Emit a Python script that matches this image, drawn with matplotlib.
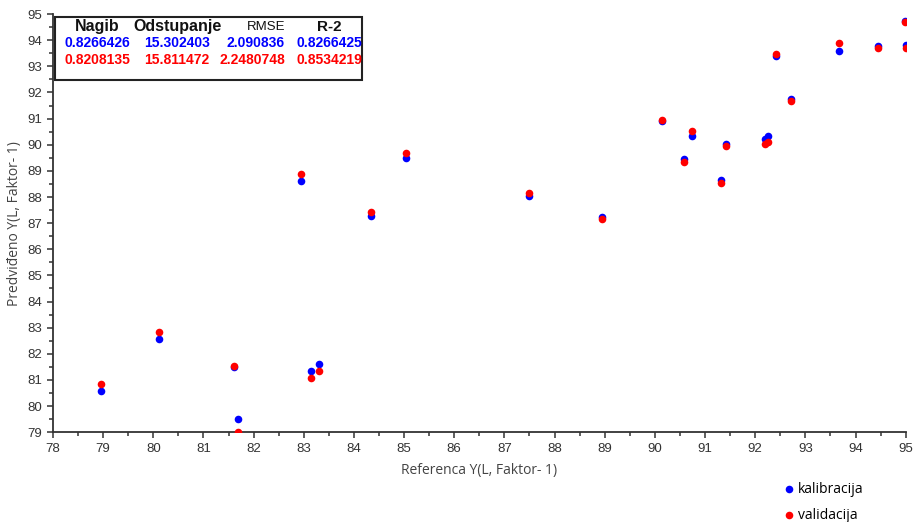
import matplotlib.pyplot as plt
from matplotlib.ticker import MultipleLocator
from matplotlib.patches import Rectangle

# referentne vrijednosti i predviđanja (kalibracija / validacija)
referenca = [78.96, 80.11, 81.61, 81.68, 83.15, 83.31, 82.94, 84.34, 85.03, 87.50,
             88.95, 90.14, 90.58, 90.74, 91.31, 91.42, 92.19, 92.26, 92.41, 92.72,
             93.68, 94.45, 94.98, 95.01]
kalibracija = [80.56, 82.55, 81.50, 79.52, 81.33, 81.62, 88.61, 87.27, 89.51, 88.04,
               87.24, 90.89, 89.45, 90.33, 88.65, 90.03, 90.23, 90.33, 93.39, 91.75,
               93.60, 93.78, 94.72, 93.83]
validacija = [80.85, 82.85, 81.55, 79.00, 81.07, 81.33, 88.87, 87.42, 89.69, 88.15,
              87.15, 90.93, 89.33, 90.51, 88.52, 89.95, 90.01, 90.11, 93.47, 91.67,
              93.90, 93.69, 94.69, 93.69]

# statistika modela
kolone = ["Nagib", "Odstupanje", "RMSE", "R-2"]
stat_kal = ["0.8266426", "15.302403", "2.090836", "0.8266425"]
stat_val = ["0.8208135", "15.811472", "2.2480748", "0.8534219"]

plt.rcParams["font.family"] = ["Liberation Sans", "DejaVu Sans"]
siva = "#333333"

fig = plt.figure(figsize=(9.13, 5.22), dpi=100)
ax = fig.add_axes([0.058, 0.172, 0.934, 0.801])

ax.scatter(referenca, kalibracija, s=30, color="#0000ff", linewidths=0, zorder=3)
ax.scatter(referenca, validacija, s=30, color="#ff0000", linewidths=0, zorder=4)

ax.set_xlim(78, 95)
ax.set_ylim(79, 95)
ax.xaxis.set_major_locator(MultipleLocator(1))
ax.xaxis.set_minor_locator(MultipleLocator(0.5))
ax.yaxis.set_major_locator(MultipleLocator(1))
ax.yaxis.set_minor_locator(MultipleLocator(0.5))

for s in ["top", "right"]:
    ax.spines[s].set_visible(False)
for s in ["left", "bottom"]:
    ax.spines[s].set_color(siva)
    ax.spines[s].set_linewidth(1.3)
ax.tick_params(which="both", direction="out", color=siva, width=1.1,
               labelcolor=siva, labelsize=9.5)
ax.tick_params(which="major", length=4)
ax.tick_params(which="minor", length=3)

ax.set_xlabel("Referenca Y(L, Faktor- 1)", family="Open Sans", fontsize=10,
              color="#444444", labelpad=6)
ax.set_ylabel("Predviđeno Y(L, Faktor- 1)", family="Open Sans", fontsize=10,
              color="#444444", labelpad=4)

# tablica sa statistikom u gornjem lijevom kutu
fig.patches.append(Rectangle((55 / 913, 1 - 80 / 522), 307 / 913, 63 / 522,
                             transform=fig.transFigure, facecolor="white",
                             edgecolor="#222222", linewidth=1.5, zorder=5))
kol_x = [97, 177, 285, 329]
kol_ha = ["center", "center", "right", "center"]
kol_w = ["bold", "bold", "normal", "bold"]
kol_fs = [11.5, 11.5, 9.5, 11]
for i in range(4):
    fig.text(kol_x[i] / 913, 1 - 27 / 522, kolone[i], ha=kol_ha[i], va="center",
             fontsize=kol_fs[i], fontweight=kol_w[i], color="#111111", zorder=6)
    fig.text(kol_x[i] / 913, 1 - 43 / 522, stat_kal[i], ha=kol_ha[i], va="center",
             fontsize=10, fontweight="bold", color="#0000ff", zorder=6)
    fig.text(kol_x[i] / 913, 1 - 60 / 522, stat_val[i], ha=kol_ha[i], va="center",
             fontsize=10, fontweight="bold", color="#ff0000", zorder=6)

# legenda ispod grafa desno
fig.legend(handles=[ax.collections[0], ax.collections[1]],
           labels=["kalibracija", "validacija"], loc="lower left",
           bbox_to_anchor=(768 / 913, -0.025), frameon=False, handletextpad=0.05,
           handlelength=1.2, labelspacing=0.75,
           prop={"family": "Open Sans", "size": 10})

plt.savefig("out.png", dpi=100)
